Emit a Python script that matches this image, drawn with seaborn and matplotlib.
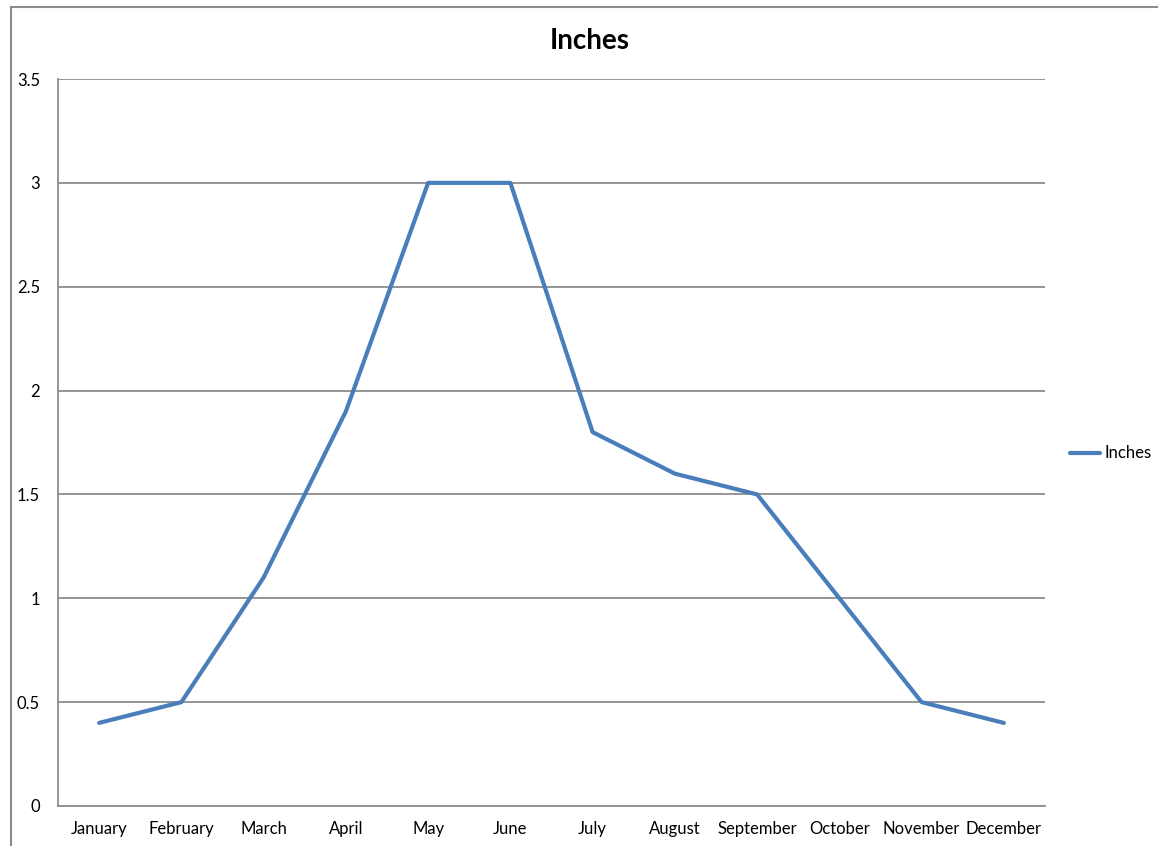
import numpy as np
import pandas as pd
import seaborn as sns
import matplotlib.pyplot as plt
from matplotlib.patches import Rectangle

# Data
months = ["January", "February", "March", "April", "May", "June",
          "July", "August", "September", "October", "November", "December"]
inches = [0.4, 0.5, 1.1, 1.9, 3.0, 3.0, 1.8, 1.6, 1.5, 1.0, 0.5, 0.4]
y_ticks = [0, 0.5, 1, 1.5, 2, 2.5, 3, 3.5]
y_labels = ["0", "0.5", "1", "1.5", "2", "2.5", "3", "3.5"]

df = pd.DataFrame({"Month": months, "Inches": inches})

sns.set_theme(style="white")
plt.rcParams["font.family"] = ["Lato", "DejaVu Sans"]

fig = plt.figure(figsize=(11.58, 8.46), dpi=100)
ax = fig.add_axes([0.0501, 0.0473, 0.8523, 0.8593])

# outer chart border (cut off at right/bottom like the reference)
fig.patches.append(Rectangle((0.0095, -0.02), 1.1, 1.0117, transform=fig.transFigure,
                             fill=False, edgecolor="#8c8c8c", linewidth=1.5))

sns.lineplot(data=df, x="Month", y="Inches", sort=False, ax=ax,
             color="#4a7ebb", linewidth=3, label="Inches")

ax.set_xlim(-0.5, 11.5)
ax.set_ylim(0, 3.5)
ax.set_yticks(y_ticks)
ax.set_yticklabels(y_labels)
ax.set_xticks(range(len(months)))
ax.set_xticklabels(months)
ax.set_xticks(np.arange(-0.5, 12, 1), minor=True)
ax.tick_params(axis="x", which="major", length=0, pad=11, labelsize=12, colors="black")
ax.tick_params(axis="x", which="minor", length=5, width=1.2, color="#8c8c8c", direction="out")
ax.tick_params(axis="y", length=5, width=1.2, color="#8c8c8c", direction="out", pad=8,
               labelsize=12, labelcolor="black")

ax.yaxis.grid(True, color="#8c8c8c", linewidth=1.3)
ax.set_axisbelow(True)
for side in ["top", "right"]:
    ax.spines[side].set_visible(False)
for side in ["left", "bottom"]:
    ax.spines[side].set_color("#8c8c8c")
    ax.spines[side].set_linewidth(1.3)

ax.set_xlabel("")
ax.set_ylabel("")
fig.text(0.5095, 0.952, "Inches", ha="center", va="center", fontsize=20, fontweight="bold",
         color="black")

ax.legend(loc="center left", bbox_to_anchor=(1.0185, 0.485), frameon=False, borderaxespad=0,
          handlelength=1.8, handletextpad=0.25, fontsize=12, labelcolor="black")

fig.savefig("out.png", dpi=100)
